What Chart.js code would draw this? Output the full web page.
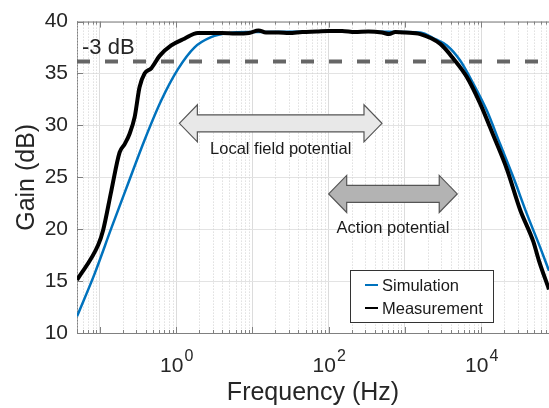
<!DOCTYPE html>
<html>
<head>
<meta charset="utf-8">
<script src="https://cdn.jsdelivr.net/npm/chart.js@4"></script>
<style>
  html, body { margin: 0; padding: 0; background: #fff; }
</style>
</head>
<body>
<canvas id="gainChart" width="549" height="408"></canvas>
<script>
// frequency response
const simFreq = [0.05, 0.085, 0.141, 0.234, 0.385, 0.636, 1.05, 1.73, 2.87, 5, 10, 100, 1000, 1590, 2500, 3550, 5300, 7900, 11900, 17700, 26400, 39600, 59000, 77500];
const simGain = [11.6, 15.7, 20.1, 24.4, 28.6, 32.4, 35.4, 37.5, 38.5, 38.9, 39.0, 39.05, 39.0, 38.95, 38.3, 37.7, 36.25, 34.0, 31.4, 28.2, 25.0, 21.5, 18.3, 16.0];

const measFreq = [0.05, 0.095, 0.11, 0.141, 0.181, 0.211, 0.245, 0.285, 0.331, 0.385, 0.47, 0.605, 0.86, 1.28, 1.92, 2.87, 4, 6, 9, 12, 15, 22, 30, 45, 70, 100, 150, 220, 330, 500, 620, 750, 1000, 1590, 2910, 4350, 6500, 9700, 14500, 21700, 32300, 48300, 57000, 77500];
const measGain = [15.1, 18.5, 19.9, 23.7, 27.4, 28.2, 29.2, 30.8, 33.7, 35.0, 35.5, 36.7, 37.7, 38.35, 38.9, 38.9, 38.9, 38.85, 38.9, 39.15, 38.95, 38.95, 38.9, 39.0, 39.05, 39.1, 39.1, 39.0, 39.05, 38.95, 38.8, 39.0, 38.95, 38.8, 37.85, 36.4, 34.65, 32.1, 29.0, 25.8, 21.9, 18.8, 17.0, 14.2];

const cutoffGain = 36.15;
const xMin = 0.05;
const xMax = 77500;
const xLabelValues = [1, 100, 10000];
const xLabelExponents = ['0', '2', '4'];

const bandNames = ['Local field potential', 'Action potential'];
const bandFrom = [1.1, 100];
const bandTo = [500, 4850];

const FONT = 'Liberation Sans, Arial, sans-serif';
const TEXT = '#262626';
const AXIS = '#808080';

Chart.defaults.font.family = FONT;

function isDecade(v) {
  const lg = Math.log10(v);
  return Math.abs(lg - Math.round(lg)) < 1e-9;
}

// gridline positions 1..9 x 10^n
const xGrid = [];
for (let e = -2; e <= 5; e++) {
  for (let m = 1; m <= 9; m++) {
    const v = m * Math.pow(10, e);
    if (v >= xMin && v <= xMax) xGrid.push(v);
  }
}

function doubleArrow(ctx, x1, x2, yc, fill) {
  const head = 18, headHalf = 18.5, shaftHalf = 8.5;
  ctx.beginPath();
  ctx.moveTo(x1, yc);
  ctx.lineTo(x1 + head, yc - headHalf);
  ctx.lineTo(x1 + head, yc - shaftHalf);
  ctx.lineTo(x2 - head, yc - shaftHalf);
  ctx.lineTo(x2 - head, yc - headHalf);
  ctx.lineTo(x2, yc);
  ctx.lineTo(x2 - head, yc + headHalf);
  ctx.lineTo(x2 - head, yc + shaftHalf);
  ctx.lineTo(x1 + head, yc + shaftHalf);
  ctx.lineTo(x1 + head, yc + headHalf);
  ctx.closePath();
  ctx.fillStyle = fill;
  ctx.fill();
  ctx.strokeStyle = '#555';
  ctx.lineWidth = 1.2;
  ctx.stroke();
}

const decor = {
  id: 'decor',
  beforeDatasetsDraw(chart) {
    const { ctx, chartArea: a, scales: { x } } = chart;
    ctx.save();
    // dotted minor grid
    ctx.strokeStyle = '#cfcfcf';
    ctx.lineWidth = 1;
    ctx.setLineDash([1, 2]);
    xGrid.forEach(v => {
      if (isDecade(v)) return;
      const px = Math.round(x.getPixelForValue(v)) + 0.5;
      ctx.beginPath();
      ctx.moveTo(px, a.top);
      ctx.lineTo(px, a.bottom);
      ctx.stroke();
    });
    ctx.restore();
  },
  afterDatasetsDraw(chart) {
    const { ctx, scales: { x, y } } = chart;
    ctx.save();
    // band arrows
    const levels = [30.2, 23.4];
    const fills = ['#e8e8e8', '#b3b3b3'];
    const textDrop = [31, 39];
    bandNames.forEach((name, i) => {
      const x1 = x.getPixelForValue(bandFrom[i]);
      const x2 = x.getPixelForValue(bandTo[i]);
      const yc = y.getPixelForValue(levels[i]);
      doubleArrow(ctx, x1, x2, yc, fills[i]);
      ctx.fillStyle = '#1a1a1a';
      ctx.font = '16.5px ' + FONT;
      ctx.textAlign = 'center';
      ctx.textBaseline = 'alphabetic';
      ctx.fillText(name, (x1 + x2) / 2, yc + textDrop[i]);
    });
    ctx.restore();
  },
  afterDraw(chart) {
    const { ctx, chartArea: a, scales: { x, y } } = chart;
    ctx.save();
    ctx.strokeStyle = AXIS;
    ctx.lineWidth = 1;
    // top box line
    ctx.beginPath();
    ctx.moveTo(a.left, a.top + 0.5);
    ctx.lineTo(a.right, a.top + 0.5);
    ctx.stroke();
    // inward ticks
    xGrid.forEach(v => {
      const px = Math.round(x.getPixelForValue(v)) + 0.5;
      const len = isDecade(v) ? 6 : 3;
      ctx.beginPath();
      ctx.moveTo(px, a.bottom);
      ctx.lineTo(px, a.bottom - len);
      ctx.moveTo(px, a.top);
      ctx.lineTo(px, a.top + len);
      ctx.stroke();
    });
    for (let g = 10; g <= 40; g += 5) {
      const py = Math.round(y.getPixelForValue(g)) + 0.5;
      ctx.beginPath();
      ctx.moveTo(a.left, py);
      ctx.lineTo(a.left + 6, py);
      ctx.stroke();
    }

    // x tick labels as 10^n
    ctx.fillStyle = TEXT;
    ctx.textBaseline = 'alphabetic';
    ctx.textAlign = 'left';
    xLabelValues.forEach((v, i) => {
      const px = x.getPixelForValue(v);
      ctx.font = '21px ' + FONT;
      const wBase = ctx.measureText('10').width;
      ctx.font = '16px ' + FONT;
      const wExp = ctx.measureText(xLabelExponents[i]).width;
      const start = px - (wBase + wExp) / 2;
      ctx.font = '21px ' + FONT;
      ctx.fillText('10', start, a.bottom + 39);
      ctx.font = '16px ' + FONT;
      ctx.fillText(xLabelExponents[i], start + wBase + 1, a.bottom + 28);
    });

    // -3 dB label
    ctx.font = '22px ' + FONT;
    ctx.fillText('-3 dB', a.left + 5, y.getPixelForValue(cutoffGain) - 8);

    // legend
    const lx = a.left + 273, ly = a.bottom - 63, lw = 143, lh = 52;
    ctx.fillStyle = '#fff';
    ctx.fillRect(lx, ly, lw, lh);
    ctx.strokeStyle = '#333';
    ctx.strokeRect(lx + 0.5, ly + 0.5, lw, lh);
    chart.data.datasets.slice(0, 2).forEach((ds, i) => {
      const rowY = ly + 15 + i * 23;
      ctx.strokeStyle = ds.borderColor;
      ctx.lineWidth = 2;
      ctx.beginPath();
      ctx.moveTo(lx + 15, rowY);
      ctx.lineTo(lx + 28, rowY);
      ctx.stroke();
      ctx.fillStyle = '#1a1a1a';
      ctx.font = '16.5px ' + FONT;
      ctx.textBaseline = 'middle';
      ctx.fillText(ds.label, lx + 32, rowY + 1);
    });
    ctx.restore();
  }
};

new Chart(document.getElementById('gainChart'), {
  type: 'line',
  data: {
    datasets: [
      {
        label: 'Simulation',
        data: simFreq.map((f, i) => ({ x: f, y: simGain[i] })),
        borderColor: '#0072bd',
        borderWidth: 2.5,
        pointRadius: 0,
        cubicInterpolationMode: 'monotone',
        order: 1
      },
      {
        label: 'Measurement',
        data: measFreq.map((f, i) => ({ x: f, y: measGain[i] })),
        borderColor: '#000000',
        borderWidth: 4,
        pointRadius: 0,
        cubicInterpolationMode: 'monotone',
        order: 0
      },
      {
        label: '-3 dB',
        data: [{ x: xMin, y: cutoffGain }, { x: xMax, y: cutoffGain }],
        borderColor: '#666666',
        borderWidth: 4,
        borderDash: [13, 15],
        pointRadius: 0,
        order: 2
      }
    ]
  },
  options: {
    responsive: false,
    animation: false,
    layout: { padding: { top: 21, left: 0, right: 0, bottom: 0 } },
    plugins: {
      legend: { display: false },
      tooltip: { enabled: false }
    },
    scales: {
      x: {
        type: 'logarithmic',
        min: xMin,
        max: xMax,
        afterBuildTicks: scale => { scale.ticks = xGrid.map(v => ({ value: v })); },
        afterFit: scale => { scale.height = 75; },
        ticks: { display: false, autoSkip: false },
        grid: {
          drawTicks: false,
          color: c => (c.tick && isDecade(c.tick.value)) ? '#dcdcdc' : 'rgba(0,0,0,0)'
        },
        border: { color: AXIS },
        title: {
          display: true,
          text: 'Frequency (Hz)',
          color: TEXT,
          font: { size: 25 },
          padding: { top: 0, bottom: 0 }
        }
      },
      y: {
        min: 10,
        max: 40,
        afterFit: scale => { scale.width = 77; },
        ticks: { stepSize: 5, color: TEXT, font: { size: 21 }, padding: 9 },
        grid: { drawTicks: false, color: '#e3e3e3' },
        border: { color: AXIS },
        title: {
          display: true,
          text: 'Gain (dB)',
          color: TEXT,
          font: { size: 25 },
          padding: { top: 12, bottom: 0 }
        }
      }
    }
  },
  plugins: [decor]
});
</script>
</body>
</html>
